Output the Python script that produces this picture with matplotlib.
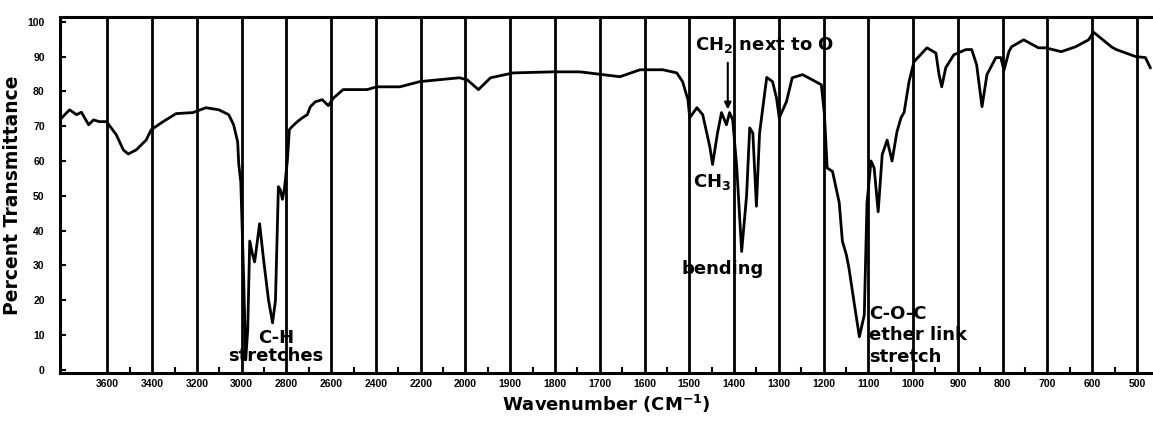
import matplotlib.pyplot as plt
import numpy as np

plt.rcParams['font.family'] = ['Liberation Sans', 'DejaVu Sans']

# spectrum (wavenumber in cm-1, % transmittance)
wavenumber = [3804, 3769, 3738, 3716, 3684, 3662, 3636, 3604, 3560, 3529,
              3507, 3471, 3427, 3404, 3351, 3293, 3218, 3160, 3102, 3058,
              3036, 3018, 3013, 3004, 2991, 2982, 2973, 2964, 2951, 2942,
              2920, 2902, 2880, 2862, 2849, 2836, 2827, 2818, 2809, 2796,
              2787, 2773, 2751, 2729, 2707, 2693, 2671, 2640, 2613, 2591,
              2547, 2440, 2396, 2293, 2204, 2027, 1996, 1971, 1944, 1893,
              1804, 1744, 1655, 1610, 1559, 1528, 1515, 1503, 1499, 1483,
              1470, 1454, 1448, 1437, 1428, 1417, 1410, 1403, 1394, 1383,
              1372, 1365, 1358, 1350, 1343, 1327, 1314, 1305, 1299, 1283,
              1270, 1247, 1225, 1205, 1198, 1192, 1180, 1165, 1158, 1149,
              1143, 1131, 1120, 1109, 1103, 1094, 1087, 1078, 1069, 1058,
              1047, 1036, 1027, 1020, 1009, 998, 969, 949, 942, 936,
              927, 909, 882, 869, 858, 846, 835, 815, 804, 797,
              786, 780, 753, 720, 704, 669, 637, 608, 597, 557,
              546, 503, 481, 470]
transmittance = [72.4, 74.7, 73.3, 74.0, 70.4, 71.8, 71.3, 71.3, 67.5, 63.2,
                 62.0, 63.2, 66.0, 69.0, 71.3, 73.6, 73.9, 75.3, 74.7, 73.3,
                 70.4, 65.5, 59.0, 54.0, 26.0, 3.0, 11.5, 37.0, 33.0, 31.0,
                 42.0, 31.6, 20.0, 13.5, 20.0, 52.6, 51.7, 49.0, 52.0, 60.0,
                 69.0, 70.0, 71.3, 72.4, 73.3, 75.6, 77.0, 77.6, 75.9, 78.0,
                 80.5, 80.5, 81.3, 81.3, 82.8, 83.9, 83.3, 80.5, 83.9, 85.3,
                 85.6, 85.6, 84.2, 86.2, 86.2, 85.3, 82.8, 77.6, 72.4, 75.3,
                 73.3, 64.0, 59.0, 68.0, 73.9, 70.4, 73.9, 71.8, 58.3, 34.0,
                 50.0, 69.5, 68.0, 47.0, 68.0, 84.0, 82.8, 78.0, 72.4, 77.0,
                 83.9, 84.8, 83.3, 81.9, 73.3, 58.0, 57.0, 48.0, 37.0, 33.0,
                 29.0, 18.7, 9.5, 15.8, 48.0, 60.0, 58.0, 45.4, 61.8, 66.0,
                 60.0, 68.4, 72.4, 74.0, 82.8, 88.5, 92.5, 91.0, 84.8, 81.3,
                 86.8, 90.5, 92.0, 92.0, 87.6, 75.6, 84.8, 89.7, 89.7, 86.0,
                 91.4, 92.8, 94.8, 92.5, 92.5, 91.4, 92.8, 94.8, 97.0, 92.8,
                 92.0, 90.0, 89.7, 86.8]

tick_values = [3600, 3400, 3200, 3000, 2800, 2600, 2400, 2200, 2000,
               1900, 1800, 1700, 1600, 1500, 1400, 1300, 1200, 1100, 1000,
               900, 800, 700, 600, 500]
minor_values = [3500, 3300, 3100, 2900, 2700, 2500, 2300, 2100,
                1950, 1850, 1750, 1650, 1550, 1450, 1350, 1250, 1150, 1050,
                950, 850, 750, 650, 550]
y_ticks = [0, 10, 20, 30, 40, 50, 60, 70, 80, 90, 100]


# scale changes at 2000 cm-1 (200 per division above, 100 below)
def fwd(w):
    w = np.asarray(w, dtype=float)
    return np.where(w <= 2000, (w - 500) / 100.0, 15 + (w - 2000) / 200.0)


def inv(u):
    u = np.asarray(u, dtype=float)
    return np.where(u <= 15, 500 + 100 * u, 2000 + 200 * (u - 15))


fig = plt.figure(figsize=(11.53, 4.21), dpi=100)
ax = fig.add_axes([0.052, 0.114, 0.948, 0.846])
ax.set_xscale('function', functions=(fwd, inv))
ax.set_xlim(3812, 464)
ax.set_ylim(-0.9, 101.4)

ax.plot(wavenumber, transmittance, color='black', lw=2.0)

ax.set_xticks(tick_values)
ax.set_xticklabels([str(v) for v in tick_values])
ax.set_xticks(minor_values, minor=True)
ax.set_yticks(y_ticks)
ax.grid(axis='x', which='major', color='black', lw=2)

ax.tick_params(axis='x', which='major', length=0, pad=4, labelsize=7.5)
ax.tick_params(axis='x', which='minor', direction='in', length=4, width=1.5)
ax.tick_params(axis='y', direction='in', length=4, width=1.5, pad=11, labelsize=7.5)
for lab in ax.get_xticklabels() + ax.get_yticklabels():
    lab.set_fontweight('bold')

for side in ['left', 'bottom', 'top']:
    ax.spines[side].set_linewidth(2.2)
ax.spines['right'].set_visible(False)

lab_font = ['DejaVu Sans']
ax.set_ylabel('Percent Transmittance', fontsize=13.5, fontweight='bold',
              family=lab_font, labelpad=4)
ax.set_xlabel('Wavenumber (CM$^{\\mathbf{-1}}$)', fontsize=13, fontweight='bold',
              family=lab_font, labelpad=3)

# annotations
txt = dict(fontsize=13, fontweight='bold', color='black', family=lab_font)
ax.text(2848, 6.5, 'C-H\nstretches', ha='center', va='center', linespacing=1.0, **txt)
ax.text(1488, 93.4, 'CH$_\\mathbf{2}$ next to O', ha='left', va='center', **txt)
ax.annotate('', xy=(1414, 74.0), xytext=(1414, 89.0),
            arrowprops=dict(arrowstyle='-|>', color='black', lw=1.5, mutation_scale=10))
ax.text(1492, 54, 'CH$_\\mathbf{3}$', ha='left', va='center', **txt)
ax.text(1517, 29, 'bending', ha='left', va='center', **txt)
ax.text(1098, 10, 'C-O-C\nether link\nstretch', ha='left', va='center', linespacing=1.25, **txt)

plt.savefig('out.png', dpi=100)
